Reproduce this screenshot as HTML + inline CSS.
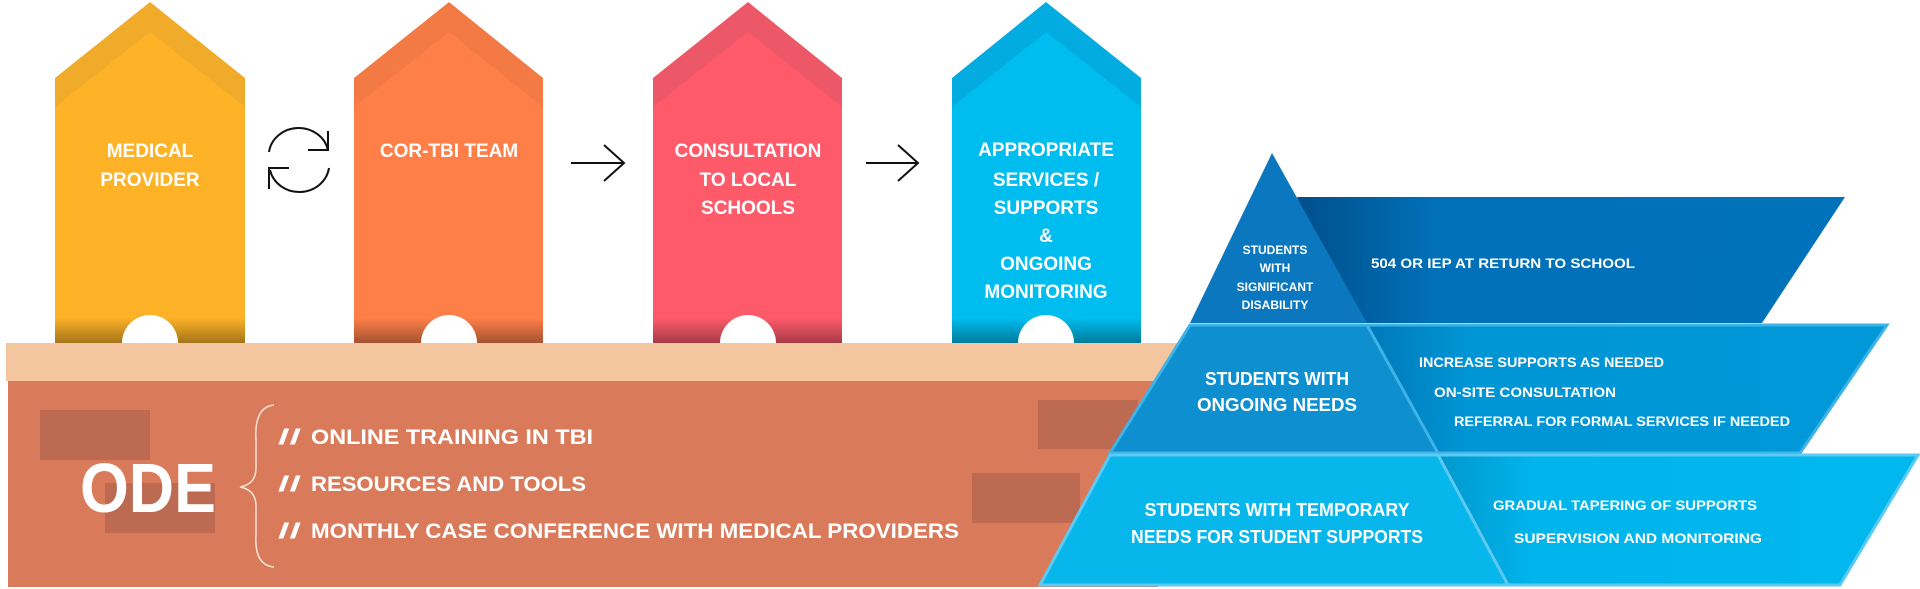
<!DOCTYPE html>
<html><head><meta charset="utf-8"><style>html,body{margin:0;padding:0;background:#fff}svg{display:block}</style></head>
<body>
<svg width="1920" height="589" viewBox="0 0 1920 589" xmlns="http://www.w3.org/2000/svg" font-family="Liberation Sans, sans-serif" font-weight="bold">
<defs>
<linearGradient id="sh" x1="0" y1="0" x2="0" y2="1"><stop offset="0" stop-color="#000" stop-opacity="0"/><stop offset="1" stop-color="#000" stop-opacity="0.35"/></linearGradient>
<linearGradient id="g1" x1="0" y1="0" x2="1" y2="0"><stop offset="0" stop-color="#004f8a"/><stop offset="0.25" stop-color="#0070b8"/><stop offset="1" stop-color="#0072bb"/></linearGradient>
<linearGradient id="g2" x1="0" y1="0" x2="1" y2="0"><stop offset="0" stop-color="#0078b8"/><stop offset="0.2" stop-color="#0096d6"/><stop offset="1" stop-color="#0098d8"/></linearGradient>
<linearGradient id="g3" x1="0" y1="0" x2="1" y2="0"><stop offset="0" stop-color="#0098cc"/><stop offset="0.2" stop-color="#00b4ec"/><stop offset="1" stop-color="#00b8ee"/></linearGradient>
</defs>
<!-- base -->
<rect x="8" y="381" width="1150" height="206" fill="#d97b5a"/>
<rect x="6" y="343" width="1200" height="38" fill="#f4c6a0"/>
<rect x="40" y="410" width="110" height="50" fill="#bd6a52"/>
<rect x="105" y="483" width="110" height="50" fill="#bd6a52"/>
<rect x="1038" y="400" width="100" height="49" fill="#bd6a52"/>
<rect x="972" y="473" width="108" height="50" fill="#bd6a52"/>
<text x="80" y="512" font-size="70" fill="#fff" textLength="136" lengthAdjust="spacingAndGlyphs">ODE</text>
<path d="M274 405 Q254 407 256 440 L256 468 Q256 484 240 487 Q256 490 256 506 L256 535 Q254 565 274 567" fill="none" stroke="#fbe3d6" stroke-width="1.5"/>
<g fill="#fff" font-size="21">
<text x="278" y="444" textLength="23" lengthAdjust="spacingAndGlyphs">//</text>
<text x="311" y="444" textLength="282" lengthAdjust="spacingAndGlyphs">ONLINE TRAINING IN TBI</text>
<text x="278" y="491" textLength="23" lengthAdjust="spacingAndGlyphs">//</text>
<text x="311" y="491" textLength="275" lengthAdjust="spacingAndGlyphs">RESOURCES AND TOOLS</text>
<text x="278" y="538" textLength="23" lengthAdjust="spacingAndGlyphs">//</text>
<text x="311" y="538" textLength="648" lengthAdjust="spacingAndGlyphs">MONTHLY CASE CONFERENCE WITH MEDICAL PROVIDERS</text>
</g>
<!-- pillars -->
<g>
<path d="M55 78 L150 2 L245 78 L245 343 L55 343Z" fill="#f0ab2a"/>
<path d="M55 107 L150 32 L245 107 L245 343 L55 343Z" fill="#fdb227"/>
<path d="M354 78 L449 2 L543 78 L543 343 L354 343Z" fill="#f37a45"/>
<path d="M354 107 L449 32 L543 107 L543 343 L354 343Z" fill="#fe7f48"/>
<path d="M653 78 L748 2 L842 78 L842 343 L653 343Z" fill="#ec5868"/>
<path d="M653 107 L748 32 L842 107 L842 343 L653 343Z" fill="#ff5a6a"/>
<path d="M952 78 L1046 2 L1141 78 L1141 343 L952 343Z" fill="#02ace0"/>
<path d="M952 107 L1046 32 L1141 107 L1141 343 L952 343Z" fill="#00bdef"/>
<rect x="55" y="318" width="190" height="25" fill="url(#sh)"/>
<rect x="354" y="318" width="189" height="25" fill="url(#sh)"/>
<rect x="653" y="318" width="189" height="25" fill="url(#sh)"/>
<rect x="952" y="318" width="189" height="25" fill="url(#sh)"/>
<path d="M122 343 A28 28 0 0 1 178 343Z" fill="#fff"/>
<path d="M421 343 A28 28 0 0 1 477 343Z" fill="#fff"/>
<path d="M720 343 A28 28 0 0 1 776 343Z" fill="#fff"/>
<path d="M1018 343 A28 28 0 0 1 1074 343Z" fill="#fff"/>
</g>
<g fill="#fff" font-size="19" text-anchor="middle">
<text x="150" y="157">MEDICAL</text>
<text x="150" y="186">PROVIDER</text>
<text x="449" y="157">COR-TBI TEAM</text>
<text x="748" y="157">CONSULTATION</text>
<text x="748" y="186">TO LOCAL</text>
<text x="748" y="214">SCHOOLS</text>
<text x="1046" y="156">APPROPRIATE</text>
<text x="1046" y="186">SERVICES /</text>
<text x="1046" y="214">SUPPORTS</text>
<text x="1046" y="242">&amp;</text>
<text x="1046" y="270">ONGOING</text>
<text x="1046" y="298">MONITORING</text>
</g>
<!-- connectors -->
<g fill="none" stroke="#111" stroke-width="2">
<path d="M269 152 A30 28 0 0 1 328 150"/><path d="M308 150 L328 150 L328 131"/>
<path d="M329 168 A30 28 0 0 1 270 170"/><path d="M289 168 L269 168 L269 189"/>
<path d="M571 163 L624 163 M604 145 L624 163 L604 181"/>
<path d="M866 163 L918 163 M898 145 L918 163 L898 181"/>
</g>
<!-- pyramid bands -->
<path d="M1297 197 L1845 197 L1762 323 L1345 323Z" fill="url(#g1)"/>
<path d="M1367 325 L1887 325 L1800 453 L1415 453Z" fill="url(#g2)" stroke="#3fb3e6" stroke-width="3"/>
<path d="M1438 455 L1918 455 L1840 585 L1490 585Z" fill="url(#g3)" stroke="#5ccaf2" stroke-width="3"/>
<path d="M1272 153 L1367 323 L1190 323Z" fill="#0a77bf"/>
<path d="M1190 325 L1367 325 L1438 453 L1110 453Z" fill="#0d8fd0" stroke="#3fb3e6" stroke-width="3"/>
<path d="M1110 455 L1438 455 L1508 585 L1040 585Z" fill="#07b7ec" stroke="#5ccaf2" stroke-width="3"/>
<g fill="#fff" text-anchor="middle" font-size="12">
<text x="1275" y="254">STUDENTS</text>
<text x="1275" y="272">WITH</text>
<text x="1275" y="291">SIGNIFICANT</text>
<text x="1275" y="309">DISABILITY</text>
</g>
<g fill="#fff" text-anchor="middle" font-size="18">
<text x="1277" y="385" textLength="144" lengthAdjust="spacingAndGlyphs">STUDENTS WITH</text>
<text x="1277" y="411" textLength="160" lengthAdjust="spacingAndGlyphs">ONGOING NEEDS</text>
<text x="1277" y="516" textLength="265" lengthAdjust="spacingAndGlyphs">STUDENTS WITH TEMPORARY</text>
<text x="1277" y="543" textLength="292" lengthAdjust="spacingAndGlyphs">NEEDS FOR STUDENT SUPPORTS</text>
</g>
<g fill="#fff" font-size="14">
<text x="1371" y="268" textLength="264" lengthAdjust="spacingAndGlyphs">504 OR IEP AT RETURN TO SCHOOL</text>
<text x="1419" y="367" textLength="245" lengthAdjust="spacingAndGlyphs">INCREASE SUPPORTS AS NEEDED</text>
<text x="1434" y="397" textLength="182" lengthAdjust="spacingAndGlyphs">ON-SITE CONSULTATION</text>
<text x="1454" y="426" textLength="336" lengthAdjust="spacingAndGlyphs">REFERRAL FOR FORMAL SERVICES IF NEEDED</text>
<text x="1493" y="510" textLength="264" lengthAdjust="spacingAndGlyphs">GRADUAL TAPERING OF SUPPORTS</text>
<text x="1514" y="543" textLength="248" lengthAdjust="spacingAndGlyphs">SUPERVISION AND MONITORING</text>
</g>
</svg>
</body></html>
